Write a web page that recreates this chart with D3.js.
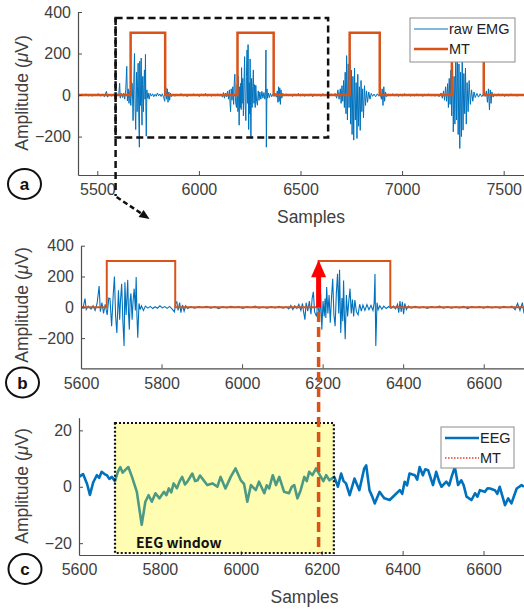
<!DOCTYPE html>
<html><head><meta charset="utf-8">
<script src="https://cdn.jsdelivr.net/npm/d3@7"></script>
<style>
body{margin:0;background:#fff;}
svg{display:block;font-family:"Liberation Sans",Arial,sans-serif;}
</style></head>
<body><svg id="c" width="524" height="610"></svg>
<script>
// ---------------- DATA ----------------
const emgSamples = [
5405,5415,5425,5435,5445,5455,5465,5475,5485,5495,5505,5515,5525,5535,5545,5550,5560,5570,5580,5590,5600,
5605,5610,5613,5618,5625,5630,5635,5640,5645,5648,5652,5656,5660,5665,5669,5672,5676,5680,5683,5686,5689,5693,5696,5698,5701,5704,5707,5709,5712,5714,5716,5718,5720,5722,5724,5727,5729,5732,5735,5737,5739,5741,5744,5747,5750,5755,5760,5766,5772,5778,5784,5790,5796,5802,5808,5814,5820,5826,5832,5835,5838,5841,5845,5848,5852,5856,5860,5865,5872,
5882,5892,5902,5912,5922,5932,5942,5952,5962,5972,5982,5992,6002,6012,6022,6032,6042,6052,6062,6072,6082,6092,6102,6110,6116,
6121,6126,6131,6136,6141,6146,6150,6153,6156,6159,6163,6167,6171,6174,6177,6180,6185,6188,6192,6195,6198,6201,6204,6206,6208,6210,6213,6216,6219,6222,6225,6228,6231,6234,6237,6240,6242,6245,6248,6250,6252,6254,6256,6259,6262,6265,6268,6271,6274,6277,6280,6284,6288,6292,6296,6300,6305,6310,6315,6320,6325,6328,6330,6332,6335,6338,6342,6347,6352,6358,6364,6370,6376,6381,6386,6389,6392,6395,6398,6401,6404,6408,6413,6420,
6430,6440,6450,6460,6470,6480,6490,6500,6510,6520,6530,6540,6550,6560,6570,6580,6590,6600,6610,6620,6630,6640,6650,6660,6670,
6678,6684,6690,6696,6700,6704,6708,6712,6716,6720,6724,6727,6731,6735,6739,6743,6747,6750,6754,6758,6762,6766,6770,6774,6778,6782,6786,6790,6794,6798,6802,6806,6810,6815,6820,6825,6830,6836,6842,6848,6855,6862,6870,6878,6885,6892,6898,6902,6906,6910,6914,6918,6924,6932,
6942,6952,6962,6972,6982,6992,7002,7012,7022,7032,7042,7052,7062,7072,7082,7092,7102,7112,7122,7132,7142,7152,7162,7172,7182,7192,
7198,7204,7209,7214,7219,7224,7228,7232,7236,7240,7244,7248,7252,7256,7260,7264,7268,7272,7276,7280,7284,7288,7292,7296,7300,7304,7308,7312,7316,7320,7325,7330,7336,7342,7348,7354,7360,7368,7376,7384,7392,7400,7408,7415,7420,7425,7430,7434,7438,7442,7448,7455,
7465,7475,7485,7495,7505,7515,7525,7535,7545,7555,7565,7575,7585,7595,7600];
const emgValues = [
2,-4,5,-3,6,-5,3,-6,4,-2,7,-5,3,-8,18,-10,4,-6,5,-3,4,
-5,57,-15,8,-12,10,-20,25,138,-28,30,-40,20,-50,60,57,-123,80,200,-60,-166,110,-80,40,153,-90,-251,163,-50,60,178,-40,-145,50,90,-80,30,121,-20,196,-60,-198,25,-15,10,-20,8,-5,6,-8,4,-6,10,-4,5,-7,6,-10,-30,25,35,-20,30,-35,15,-25,10,-8,5,
-6,4,-3,7,-5,3,-8,5,-4,6,-2,4,-7,5,-3,8,-5,2,-6,4,-4,6,-5,3,-10,
12,-15,10,-8,18,-20,25,-35,-80,30,-25,40,-45,60,100,-30,-60,50,-80,90,-145,40,-60,57,-70,132,-40,80,-100,60,185,-50,-123,90,217,-40,243,-166,60,-90,174,-50,-208,80,-60,40,121,-40,50,-60,47,-30,-49,20,-25,15,-20,18,-15,12,-20,30,217,-251,30,-15,10,-12,8,-8,5,-6,8,-10,20,-35,40,-30,35,-45,25,-15,8,-5,
6,-4,3,-7,5,-3,8,-5,4,-6,3,-4,6,-8,5,-3,4,-6,7,-4,3,-5,6,-3,8,
-15,25,-20,30,-40,45,-30,70,-60,110,-90,190,-120,150,-60,175,-140,120,-190,90,-217,130,-120,60,-209,100,-150,40,-170,70,-80,30,-110,45,-50,20,-35,15,-20,8,-6,5,-8,6,-5,10,-20,30,-50,40,-30,15,-8,5,
-4,6,-3,5,-7,4,-5,7,-3,4,-6,3,-5,6,-4,3,-7,5,-3,6,-5,4,-6,5,-8,10,
-15,20,-25,40,-30,55,-60,80,-45,120,-100,170,-177,90,-140,200,-120,230,-190,150,-257,110,-200,180,-169,104,-90,130,-140,60,-80,70,-45,25,-30,15,-12,8,-10,6,-8,5,-6,20,-35,30,-72,25,-40,15,-10,5,
-4,6,-3,5,-7,4,-5,6,-3,4,-6,5,-4,3,-2];

const mtOnsets  = [5664, 6190, 6742, 7245];
const mtOffsets = [5834, 6368, 6890, 7402];
const mtLevel   = 300;

const eegSamples = [5600,5610,5620,5627,5635,5644,5650,5656,5663,5669,5675,5681,5689,5696,5702,5708,5714,5722,5731,5743,5755,5764,5772,5780,5789,5799,5810,5816,5822,5828,5834,5842,5849,5855,5862,5868,5880,5887,5893,5899,5905,5917,5930,5942,5950,5962,5975,5987,6000,6008,6016,6025,6037,6045,6058,6064,6070,6079,6087,6095,6107,6119,6126,6132,6140,6148,6157,6163,6169,6177,6186,6198,6204,6211,6219,6231,6240,6248,6254,6260,6269,6281,6293,6305,6310,6318,6325,6331,6343,6349,6355,6368,6380,6393,6399,6405,6411,6417,6430,6436,6442,6450,6456,6463,6475,6483,6490,6496,6508,6515,6521,6529,6537,6545,6551,6558,6570,6579,6585,6591,6603,6610,6616,6628,6634,6640,6653,6661,6669,6676,6682,6694,6700];
const eegValues  = [3.5,4.5,1.0,-2.9,1.5,4.1,3.2,5.3,4.5,4.1,2.8,3.5,2.0,5.3,7.0,5.0,5.9,7.0,3.5,-1.8,-13.5,-5.3,-3.0,-5.3,-2.3,-4.1,-1.8,-3.0,-0.6,-2.0,1.2,-0.5,2.0,3.5,0.8,1.8,4.7,2.0,2.3,4.0,2.9,0.6,1.2,0,3.5,-0.6,3.5,6.5,2.3,1.0,-5.3,0.6,-1.2,1.8,-2.3,0.5,-0.6,4.1,0.6,3.5,-1.8,-2.3,0.0,0.6,-4.1,-1.2,3.5,2.0,5.3,4.1,6.5,3.5,2.0,4.1,2.3,3.5,0,4.7,2.0,1.2,-3.0,2.9,-1.2,6.5,7.6,-1.2,-3.5,-5.9,-1.8,-3.0,-4.1,-4.7,-3.0,-1.2,-2.5,1.8,0.5,4.7,4.1,2.5,7.0,4.1,6.2,5.9,0.6,5.3,2.0,0,1.8,0.5,3.5,7.0,0.6,2.3,0.5,-3.5,-4.7,-2.3,-3.5,-1.2,-1.8,-0.5,-0.6,-1.2,-2.5,0,-6.5,-4.1,-5.9,-3.0,-0.6,0.6,0];

const ticksA  = [5500, 6000, 6500, 7000, 7500];
const ticksBC = [5600, 5800, 6000, 6200, 6400, 6600];
const yTicksEMG = [-200, 0, 200, 400];
const yTicksEEG = [-20, 0, 20];
const eegWindow = [5689, 6230];
const onsetMark = 6190;
const zoomBox = {x0: 5590, x1: 6636, y0: -205, y1: 371};

// -------------- DRAW ----------------
const svg = d3.select("#c");
const BLUE = "#0072bd", ORANGE = "#d95319", AX = "#4d4d4d", TXT = "#404040";
const emg = emgSamples.map((s,i)=>[s, emgValues[i]]);
const eeg = eegSamples.map((s,i)=>[s, eegValues[i]]);
function mtSteps(lo, hi){
  const pts=[[lo,0]];
  mtOnsets.forEach((on,i)=>{pts.push([on,0],[on,mtLevel],[mtOffsets[i],mtLevel],[mtOffsets[i],0]);});
  pts.push([hi,0]); return pts;
}

function panel(id, xDom, xRange, yDom, yRange, xt, yt){
  const x = d3.scaleLinear().domain(xDom).range(xRange);
  const y = d3.scaleLinear().domain(yDom).range(yRange);
  const g = svg.append("g");
  svg.append("clipPath").attr("id","clip"+id).append("rect")
    .attr("x",xRange[0]).attr("y",yRange[1]).attr("width",xRange[1]-xRange[0]).attr("height",yRange[0]-yRange[1]);
  const plot = g.append("g").attr("clip-path","url(#clip"+id+")");
  const xa = g.append("g").attr("transform",`translate(0,${yRange[0]})`)
    .call(d3.axisBottom(x).tickValues(xt).tickSizeInner(-4).tickSizeOuter(0).tickPadding(9).tickFormat(d3.format("d")));
  const ya = g.append("g").attr("transform",`translate(${xRange[0]},0)`)
    .call(d3.axisLeft(y).tickValues(yt).tickSizeInner(-4).tickSizeOuter(0).tickPadding(7).tickFormat(d3.format("d")));
  [xa,ya].forEach(a=>{
    a.select(".domain").attr("stroke",AX).attr("stroke-width",1.2);
    a.selectAll(".tick line").attr("stroke",AX);
    a.selectAll(".tick text").attr("fill",TXT).style("font-size","16px").style("font-family","'Liberation Sans',Arial,sans-serif");
  });
  return {x,y,g,plot};
}
function yLabel(cx, cy){
  const t = svg.append("text").attr("transform",`translate(${cx},${cy}) rotate(-90)`)
    .attr("text-anchor","middle").attr("fill",TXT).style("font-size","17.5px");
  t.append("tspan").text("Amplitude (");
  t.append("tspan").attr("font-style","italic").text("\u03bc");
  t.append("tspan").text("V)");
}
function circleLabel(cx, cy, ch){
  svg.append("ellipse").attr("cx",cx).attr("cy",cy).attr("rx",16.5).attr("ry",15)
    .attr("fill","#fff").attr("stroke","#111").attr("stroke-width",2);
  svg.append("text").attr("x",cx).attr("y",cy+6).attr("text-anchor","middle")
    .attr("font-weight","bold").style("font-size","17px").attr("fill","#111").text(ch);
}
function legend(x0,y0,w,h,items){
  svg.append("rect").attr("x",x0).attr("y",y0).attr("width",w).attr("height",h)
    .attr("fill","#fff").attr("stroke","#8c8c8c").attr("stroke-width",1);
  items.forEach(it=>{
    svg.append("line").attr("x1",x0+4).attr("x2",x0+38).attr("y1",it.y).attr("y2",it.y)
      .attr("stroke",it.color).attr("stroke-width",it.w).attr("stroke-dasharray",it.dash||null);
    svg.append("text").attr("x",x0+39).attr("y",it.y+5).attr("fill","#222")
      .style("font-size","14.5px").text(it.label);
  });
}

// ---- panel a ----
const A = panel("a",[5405,7600],[78,524],[-385,400],[175,12],ticksA,yTicksEMG);
const lineA = d3.line().x(d=>A.x(d[0])).y(d=>A.y(d[1]));
A.plot.append("path").datum(emg).attr("d",lineA).attr("fill","none").attr("stroke",BLUE).attr("stroke-width",1);
A.plot.append("path").datum(mtSteps(5405,7600)).attr("d",lineA).attr("fill","none").attr("stroke",ORANGE).attr("stroke-width",2.5);
svg.append("text").attr("x",(78+524)/2+10).attr("y",223).attr("text-anchor","middle").attr("fill",TXT).style("font-size","17.5px").text("Samples");
yLabel(28, 93);
// zoom box
const bx0=A.x(zoomBox.x0), bx1=A.x(zoomBox.x1), by0=A.y(zoomBox.y1), by1=A.y(zoomBox.y0);
svg.append("rect").attr("x",bx0).attr("y",by0).attr("width",bx1-bx0).attr("height",by1-by0)
  .attr("fill","none").attr("stroke","#111").attr("stroke-width",2.5).attr("stroke-dasharray","7,4");
svg.append("line").attr("x1",bx0).attr("x2",bx0).attr("y1",by0).attr("y2",196)
  .attr("stroke","#111").attr("stroke-width",2.5).attr("stroke-dasharray","7,4");
svg.append("line").attr("x1",bx0+1).attr("x2",bx0+28).attr("y1",197).attr("y2",215)
  .attr("stroke","#111").attr("stroke-width",2.5).attr("stroke-dasharray","5,3");
svg.append("path").attr("d",`M${bx0+34},${219} L${bx0+23},${217} L${bx0+28},${210} Z`).attr("fill","#111");
legend(410,18,105,44,[{y:29,color:BLUE,w:1,label:"raw EMG"},{y:49,color:ORANGE,w:2.5,label:"MT"}]);
circleLabel(24.5,184,"a");

// ---- panel b ----
const B = panel("b",[5600,6700],[81,524],[-396,400],[368.3,245.7],ticksBC,yTicksEMG);
const lineB = d3.line().x(d=>B.x(d[0])).y(d=>B.y(d[1]));
B.plot.append("path").datum(emg).attr("d",lineB).attr("fill","none").attr("stroke",BLUE).attr("stroke-width",1.1);
B.plot.append("path").datum(mtSteps(5600,6700)).attr("d",lineB).attr("fill","none").attr("stroke",ORANGE).attr("stroke-width",2);
yLabel(28, 305);
circleLabel(22.5,382.5,"b");

// ---- panel c ----
const C = panel("c",[5600,6700],[79,524],[-24.2,24.5],[555,417.7],ticksBC,yTicksEEG);
const lineC = d3.line().x(d=>C.x(d[0])).y(d=>C.y(d[1]));
C.plot.append("path").datum(eeg).attr("d",lineC).attr("fill","none").attr("stroke",BLUE).attr("stroke-width",2.6).attr("stroke-linejoin","round");
const wx0=C.x(eegWindow[0]), wx1=C.x(eegWindow[1]);
svg.append("rect").attr("x",wx0).attr("y",423).attr("width",wx1-wx0).attr("height",553-423)
  .attr("fill","rgba(255,248,0,0.3)").attr("stroke","#111").attr("stroke-width",2.2).attr("stroke-dasharray","2,2");
svg.append("text").attr("x",wx0+21).attr("y",548).attr("fill","#111").attr("font-weight","bold")
  .style("font-family","'Noto Sans CJK KR','Noto Sans',sans-serif").style("font-size","14px").text("EEG window");
svg.append("text").attr("x",(79+524)/2+3).attr("y",603).attr("text-anchor","middle").attr("fill",TXT).style("font-size","17.5px").text("Samples");
yLabel(28, 486);
legend(441,427,73,41,[{y:438,color:BLUE,w:2.6,label:"EEG"},{y:458,color:"#e8402a",w:1.3,dash:"1.5,1.5",label:"MT"}]);
circleLabel(25,569,"c");

// ---- onset marker (dashed line b -> c, red arrow) ----
const mx = B.x(onsetMark);
svg.append("line").attr("x1",mx).attr("x2",mx).attr("y1",312).attr("y2",553)
  .attr("stroke",ORANGE).attr("stroke-width",3.5).attr("stroke-dasharray","10,5");
svg.append("rect").attr("x",mx-2.5).attr("y",B.y(0)-32).attr("width",5).attr("height",32).attr("fill","#ff0000");
svg.append("path").attr("d",`M${mx-7.5},${B.y(0)-30} L${mx+7.5},${B.y(0)-30} L${mx},${B.y(mtLevel)-1} Z`).attr("fill","#ff0000");
</script></body></html>
